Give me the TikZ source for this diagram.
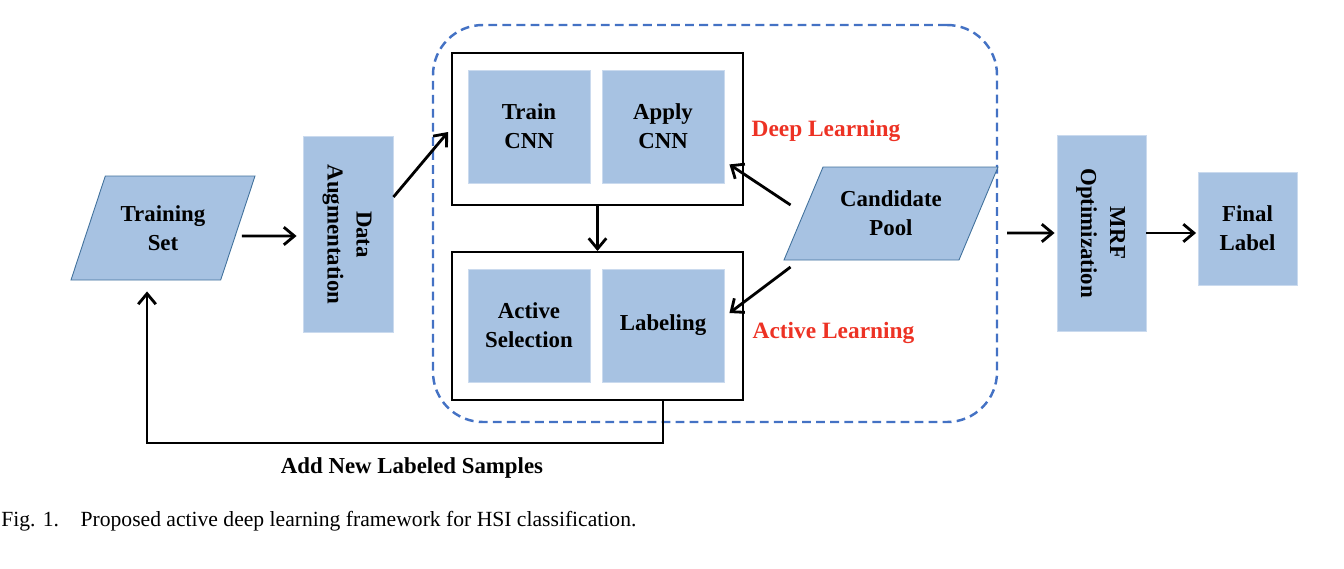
\documentclass[tikz,border=0pt]{standalone}
\usepackage{fontspec}
\setmainfont{Liberation Serif}
\usepackage{graphicx}
\usepackage{xcolor}
\usepackage{tikz}
\usetikzlibrary{arrows.meta,shapes.geometric,positioning}
\definecolor{boxblue}{RGB}{167,194,226}
\definecolor{edgeblue}{RGB}{65,113,156}
\definecolor{frameblue}{RGB}{68,114,196}
\definecolor{tagred}{RGB}{237,50,36}

\begin{document}
\begin{tikzpicture}[
    blk/.style={rectangle,fill=boxblue,draw=boxblue!60!white,line width=0.5pt,align=center,inner sep=0pt},
    grp/.style={rectangle,draw=black,line width=1.1pt,inner sep=0pt},
    pgram/.style={trapezium,fill=boxblue,draw=edgeblue,line width=0.5pt,align=center,trapezium stretches body,inner xsep=0pt},
    arr/.style={-{Straight Barb[length=6pt,width=10pt]},line width=1.6pt},
    tag/.style={text=tagred,font=\fontsize{13.3}{16}\selectfont\bfseries},
    font=\fontsize{13}{16.5}\selectfont\bfseries
]
    \useasboundingbox (0,0) rectangle (26.88,11.36);
    \node[rectangle,rounded corners=1cm,draw=frameblue,line width=1.4pt,dash pattern=on 5pt off 3pt,minimum width=11.28cm,minimum height=7.94cm] (frame) at (14.30,6.89) {};
    \node[pgram,trapezium left angle=70,trapezium right angle=110,inner ysep=14pt,minimum width=3.68cm,minimum height=2.08cm] (train) at (3.26,6.80) {Training\\Set};
    \node[blk,minimum width=1.8cm,minimum height=3.92cm] (aug) at (6.96,6.67) {\rotatebox{-90}{\begin{tabular}{@{}c@{}}Data\\Augmentation\end{tabular}}};
    \node[grp,minimum width=5.82cm,minimum height=3.04cm] (dl) at (11.95,8.78) {};
    \node[grp,minimum width=5.82cm,minimum height=2.96cm] (al) at (11.95,4.84) {};
    \node[blk,minimum width=2.44cm,minimum height=2.26cm] (trcnn) at (10.58,8.83) {Train\\CNN};
    \node[blk,minimum width=2.44cm,minimum height=2.26cm] (apcnn) at (13.26,8.83) {Apply\\CNN};
    \node[blk,minimum width=2.44cm,minimum height=2.26cm] (actsel) at (10.58,4.85) {Active\\Selection};
    \node[blk,minimum width=2.44cm,minimum height=2.26cm] (labl) at (13.26,4.85) {Labeling};
    \node[pgram,trapezium left angle=65,trapezium right angle=115,inner ysep=11pt,minimum width=4.28cm,minimum height=1.86cm] (cand) at (17.82,7.09) {Candidate\\Pool};
    \node[tag] (deep) at (16.52,8.74) {Deep Learning};
    \node[tag] (active) at (16.67,4.70) {Active Learning};
    \node[blk,minimum width=1.78cm,minimum height=3.92cm] (mrf) at (22.03,6.70) {\rotatebox{-90}{\begin{tabular}{@{}c@{}}MRF\\Optimization\end{tabular}}};
    \node[blk,minimum width=1.98cm,minimum height=2.26cm] (final) at (24.95,6.79) {Final\\Label};
    \node (add) at (8.24,2.0) {Add New Labeled Samples};
    \node[anchor=west,inner sep=0pt,font=\normalfont\fontsize{12.3}{14}\selectfont] (cap) at (0.02,0.94) {Fig. 1.\hspace{1em}Proposed active deep learning framework for HSI classification.};
    \draw[arr] ([xshift=0.07cm,yshift=-0.16cm]train.east) -- ([xshift=-0.12cm,yshift=-0.03cm]aug.west);
    \draw[arr] ([yshift=0.75cm]aug.east) -- ([xshift=-0.06cm,yshift=-0.06cm]dl.west);
    \draw[arr] (dl) -- (al);
    \draw[arr] ([xshift=-0.25cm,yshift=0.17cm]cand.west) -- ([xshift=0.1cm,yshift=0.38cm]apcnn.south east);
    \draw[arr] ([xshift=-0.25cm,yshift=-1.07cm]cand.west) -- ([xshift=0.1cm,yshift=0.25cm]labl.east);
    \draw[arr] ([xshift=0.18cm,yshift=-0.19cm]frame.east) -- ([xshift=-0.04cm]mrf.west);
    \draw[arr] (mrf.east) -- ([xshift=-0.03cm]mrf.east -| final.west);
    \draw[arr,shorten >=0.22cm] (labl.south |- al.south) -- ++(0,-0.84) -| ([xshift=-0.32cm]train.south);
\end{tikzpicture}
\end{document}
